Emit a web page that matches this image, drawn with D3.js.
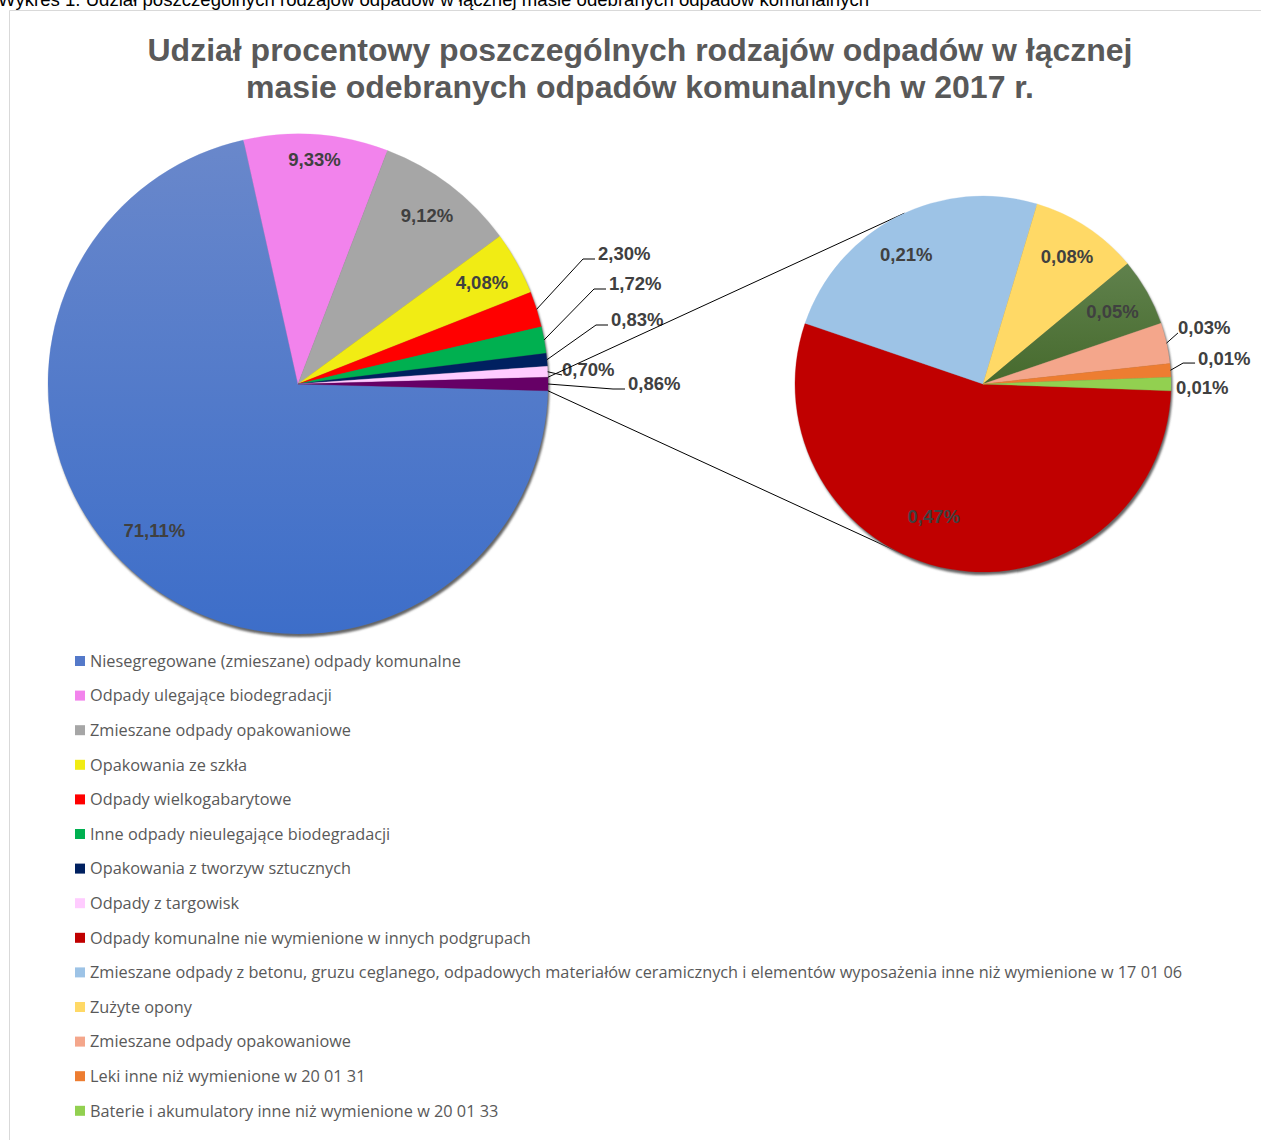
<!DOCTYPE html>
<html>
<head>
<meta charset="utf-8">
<script src="https://cdn.jsdelivr.net/npm/d3@7"></script>
<style>
  body { margin: 0; background: #fff; overflow: hidden; }
</style>
</head>
<body>
<div id="chart"></div>
<script>
const mainNames = [
  "Niesegregowane (zmieszane) odpady komunalne",
  "Odpady ulegające biodegradacji",
  "Zmieszane odpady opakowaniowe",
  "Opakowania ze szkła",
  "Odpady wielkogabarytowe",
  "Inne odpady nieulegające biodegradacji",
  "Opakowania z tworzyw sztucznych",
  "Odpady z targowisk",
  "Pozostałe"
];
const mainValues = [71.11, 9.33, 9.12, 4.08, 2.30, 1.72, 0.83, 0.70, 0.86];
const mainColors = ["url(#blueGrad)", "#f283ec", "#a6a6a6", "#f1ec14", "#ff0000", "#00b050", "#002060", "#ffccff", "#660066"];
const mainLegendColors = ["#5479c9", "#f283ec", "#a6a6a6", "#f1ec14", "#ff0000", "#00b050", "#002060", "#ffccff"];

const subNames = [
  "Odpady komunalne nie wymienione w innych podgrupach",
  "Zmieszane odpady z betonu, gruzu ceglanego, odpadowych materiałów ceramicznych i elementów wyposażenia inne niż wymienione w 17 01 06",
  "Zużyte opony",
  null,
  "Zmieszane odpady opakowaniowe",
  "Leki inne niż wymienione w 20 01 31",
  "Baterie i akumulatory inne niż wymienione w 20 01 33"
];
const subValues = [0.47, 0.21, 0.08, 0.05, 0.03, 0.01, 0.01];
const subColors = ["#c00000", "#9dc3e6", "#ffd966", "url(#greenGrad)", "#f4a68b", "#ed7d31", "#92d050"];
const subLegendColors = ["#c00000", "#9dc3e6", "#ffd966", "#548235", "#f4a68b", "#ed7d31", "#92d050"];

// label placement: inside = [index, radius factor, angle nudge in degrees]
const mainInside = [[0, 0.82, 5], [1, 0.90, 0], [2, 0.85, 0], [3, 0.84, 0]];
const subInside = [[0, 0.75, 10], [1, 0.80, -3.5], [2, 0.81, 0], [3, 0.79, 0]];
// outside = [index, text x, text y (radius units from centre), leader with elbow?]
const mainOutside = [[4, 1.20, -0.52, true], [5, 1.244, -0.40, true], [6, 1.252, -0.256, true], [7, 1.056, -0.056, false], [8, 1.32, 0, true]];
const subOutside = [[4, 1.037, -0.298, false], [5, 1.144, -0.138, true], [6, 1.027, 0.021, false]];

(() => {
  const width = 1261, height = 1140;
  const fmt = v => v.toFixed(2).replace(".", ",") + "%";
  const main = { cx: 298, cy: 384, r: 250 };
  const sub = { cx: 983, cy: 384, r: 188 };

  const svg = d3.select("#chart").append("svg")
    .attr("width", width).attr("height", height)
    .style("font-family", "'Liberation Sans', Arial, sans-serif");

  const defs = svg.append("defs");
  const bg = defs.append("linearGradient").attr("id", "blueGrad")
    .attr("gradientUnits", "userSpaceOnUse")
    .attr("x1", 0).attr("y1", -main.r).attr("x2", 0).attr("y2", main.r);
  bg.append("stop").attr("offset", 0).attr("stop-color", "#6a88cb");
  bg.append("stop").attr("offset", 1).attr("stop-color", "#3d6ec9");
  const gg = defs.append("linearGradient").attr("id", "greenGrad")
    .attr("gradientUnits", "userSpaceOnUse")
    .attr("x1", 0).attr("y1", -130).attr("x2", 0).attr("y2", 0);
  gg.append("stop").attr("offset", 0).attr("stop-color", "#62834f");
  gg.append("stop").attr("offset", 1).attr("stop-color", "#466a2d");
  const blur = defs.append("filter").attr("id", "shadowBlur");
  blur.append("feGaussianBlur").attr("stdDeviation", 0.8);

  // frame + caption
  svg.append("path").attr("d", `M9.5,${height} V10.5 H${width}`)
    .attr("fill", "none").attr("stroke", "#d9d9d9");
  svg.append("text").attr("x", -2).attr("y", 6)
    .style("font-size", "18.6px").attr("fill", "#000")
    .text("Wykres 1. Udział poszczególnych rodzajów odpadów w łącznej masie odebranych odpadów komunalnych");

  // title
  const title = svg.append("text").attr("text-anchor", "middle")
    .style("font-size", "32px").style("font-weight", "bold").attr("fill", "#595959");
  title.append("tspan").attr("x", 640).attr("y", 61).text("Udział procentowy poszczególnych rodzajów odpadów w łącznej");
  title.append("tspan").attr("x", 640).attr("y", 98).text("masie odebranych odpadów komunalnych w 2017 r.");

  function drawPie(conf, values, colors, inside, outside) {
    const total = d3.sum(values);
    const last = values[values.length - 1] / total;
    const start = Math.PI / 2 + last * Math.PI;
    const arcs = d3.pie().sort(null).startAngle(start).endAngle(start + 2 * Math.PI)(values);
    const arc = d3.arc().innerRadius(0).outerRadius(conf.r);
    const g = svg.append("g").attr("transform", `translate(${conf.cx},${conf.cy})`);
    g.append("circle").attr("cx", 1.5).attr("cy", 3).attr("r", conf.r)
      .attr("fill", "#666").attr("filter", "url(#shadowBlur)");
    g.selectAll("path.slice").data(arcs).enter().append("path")
      .attr("class", "slice").attr("d", arc)
      .attr("fill", (d, i) => colors[i])
      .attr("stroke", (d, i) => colors[i]).attr("stroke-width", 0.3);

    inside.forEach(([i, k, nudge]) => {
      const d = arcs[i];
      const a = (d.startAngle + d.endAngle) / 2 + nudge * Math.PI / 180;
      g.append("text")
        .attr("x", Math.sin(a) * conf.r * k).attr("y", -Math.cos(a) * conf.r * k)
        .attr("text-anchor", "middle").attr("dy", "0.35em")
        .style("font-size", "18.5px").style("font-weight", "bold").attr("fill", "#404040")
        .text(fmt(d.value));
    });

    outside.forEach(([i, ox, oy, elbow]) => {
      const d = arcs[i];
      const a = (d.startAngle + d.endAngle) / 2;
      const px = Math.sin(a) * conf.r, py = -Math.cos(a) * conf.r;
      const tx = ox * conf.r, ty = oy * conf.r;
      if (elbow) {
        g.append("polyline")
          .attr("points", `${px},${py} ${tx - 15},${ty + 5} ${tx - 3},${ty + 5}`)
          .attr("fill", "none").attr("stroke", "#000").attr("stroke-width", 1);
      } else if (Math.hypot(tx - px, ty - py) > 12) {
        g.append("line").attr("x1", px).attr("y1", py).attr("x2", tx).attr("y2", ty + 5)
          .attr("stroke", "#000");
      }
      g.append("text").attr("x", tx).attr("y", ty).attr("dy", "0.35em")
        .style("font-size", "18.5px").style("font-weight", "bold").attr("fill", "#404040")
        .text(fmt(d.value));
    });
    return arcs;
  }

  const mainArcs = drawPie(main, mainValues, mainColors, mainInside, mainOutside);

  // connectors: tangents from the "other" slice edge to the second pie
  const other = mainArcs[mainArcs.length - 1];
  const edge = ang => [main.cx + Math.sin(ang) * main.r, main.cy - Math.cos(ang) * main.r];
  const tangent = (p, upper) => {
    const dx = p[0] - sub.cx, dy = p[1] - sub.cy;
    const d = Math.hypot(dx, dy);
    const th = Math.atan2(dy, dx), al = Math.acos(sub.r / d);
    const t = upper ? th + al : th - al;
    return [sub.cx + Math.cos(t) * sub.r, sub.cy + Math.sin(t) * sub.r];
  };
  const pTop = edge(other.startAngle), pBot = edge(other.endAngle);
  [[pTop, tangent(pTop, true)], [pBot, tangent(pBot, false)]].forEach(([a, b]) => {
    svg.append("line").attr("x1", a[0]).attr("y1", a[1]).attr("x2", b[0]).attr("y2", b[1])
      .attr("stroke", "#000").attr("stroke-width", 1);
  });

  drawPie(sub, subValues, subColors, subInside, subOutside);

  // legend
  const legendItems = mainNames.slice(0, 8).map((n, i) => ({ n, c: mainLegendColors[i] }))
    .concat(subNames.map((n, i) => ({ n, c: subLegendColors[i] })).filter(d => d.n));
  const lg = svg.append("g").attr("transform", "translate(75,661)");
  const rows = lg.selectAll("g").data(legendItems).enter().append("g")
    .attr("transform", (d, i) => `translate(0,${i * 34.6})`);
  rows.append("rect").attr("x", 0).attr("y", -5).attr("width", 10).attr("height", 10).attr("fill", d => d.c);
  rows.append("text").attr("x", 15).attr("dy", "0.35em")
    .style("font-family", "'Open Sans', sans-serif").style("font-size", "16.3px").attr("fill", "#595959")
    .text(d => d.n);
})();
</script>
</body>
</html>
